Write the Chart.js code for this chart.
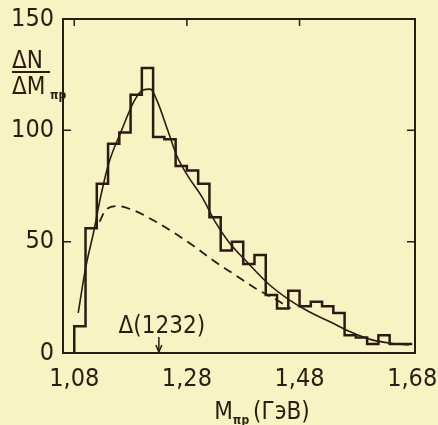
<!DOCTYPE html>
<html>
<head>
<meta charset="utf-8">
<script src="https://cdn.jsdelivr.net/npm/chart.js@4/dist/chart.umd.min.js"></script>
<style>
  html, body { margin: 0; padding: 0; background: #f8f3c2; }
  canvas { display: block; }
</style>
</head>
<body>
<canvas id="c" width="438" height="425"></canvas>
<script>
// гистограмма: границы бинов (ГэВ) и число событий в бине
const binEdges = [1.08, 1.10, 1.12, 1.14, 1.16, 1.18, 1.20, 1.22, 1.24, 1.26, 1.28,
  1.30, 1.32, 1.34, 1.36, 1.38, 1.40, 1.42, 1.44, 1.46, 1.48,
  1.50, 1.52, 1.54, 1.56, 1.58, 1.60, 1.62, 1.64, 1.66, 1.68]
const counts = [12, 56, 76, 94, 99, 116, 128, 97, 96, 84,
  82, 76, 61, 46, 50, 40, 44, 26, 20, 28,
  21, 23, 21, 18, 8, 7, 4, 8, 4, 4]

// сплошная кривая (полный фит)
const fitMass = [1.087, 1.10, 1.115, 1.125, 1.141, 1.164, 1.186, 1.201, 1.215, 1.2275,
  1.246, 1.263, 1.283, 1.307, 1.33, 1.354, 1.39, 1.425, 1.461, 1.497,
  1.534, 1.57, 1.607, 1.644, 1.674]
const fitValue = [18, 38, 55, 68, 85, 100, 113, 118, 118.5, 113,
  100, 88, 79, 70, 59, 50, 40, 31, 24, 18.5,
  14, 9.5, 6, 4.3, 3.6]

// пунктир (фон)
const bgMass = [1.125, 1.135, 1.156, 1.186, 1.221, 1.257, 1.295, 1.33, 1.366, 1.402, 1.438, 1.464]
const bgValue = [59, 64, 66, 64, 59.5, 54, 47.5, 41, 35, 29, 24, 20]

const massTicks = [1.08, 1.28, 1.48, 1.68]
const countTicks = [0, 50, 100, 150]
const deltaMass = 1.232

const INK = '#2a1c12'
const BG = '#f8f3c2'
const FONT = "'Liberation Sans Narrow', 'DejaVu Sans Condensed', sans-serif"

const histPoints = [{ x: binEdges[0], y: 0 }]
counts.forEach((v, i) => histPoints.push({ x: binEdges[i], y: v }))
histPoints.push({ x: binEdges[binEdges.length - 1], y: counts[counts.length - 1] })

const paper = {
  id: 'paper',
  beforeDraw(chart) {
    const ctx = chart.ctx
    ctx.save()
    ctx.fillStyle = BG
    ctx.fillRect(0, 0, chart.width, chart.height)
    ctx.restore()
  },
  afterDraw(chart) {
    const ctx = chart.ctx
    const a = chart.chartArea
    const xs = chart.scales.x
    const ys = chart.scales.y
    ctx.save()
    ctx.strokeStyle = INK
    ctx.fillStyle = INK
    ctx.lineWidth = 2
    ctx.strokeRect(a.left, a.top, a.right - a.left, a.bottom - a.top)

    // внутренние риски
    ctx.lineWidth = 1.5
    ;[50, 100].forEach(v => {
      const py = ys.getPixelForValue(v)
      ctx.beginPath()
      ctx.moveTo(a.left, py); ctx.lineTo(a.left + 8, py)
      ctx.moveTo(a.right, py); ctx.lineTo(a.right - 8, py)
      ctx.stroke()
    })
    ;[1.08, 1.28, 1.48].forEach(v => {
      const px = xs.getPixelForValue(v)
      ctx.beginPath()
      ctx.moveTo(px, a.top); ctx.lineTo(px, a.top + 7)
      ctx.stroke()
    })

    // Δ(1232) со стрелкой
    const dx = xs.getPixelForValue(deltaMass)
    ctx.font = '24px ' + FONT
    ctx.textAlign = 'center'
    ctx.textBaseline = 'alphabetic'
    ctx.fillText('\u0394(1232)', dx + 2, 333)
    ctx.beginPath()
    ctx.moveTo(dx - 1, 337); ctx.lineTo(dx - 1, a.bottom - 1)
    ctx.stroke()
    ctx.beginPath()
    ctx.moveTo(dx - 4, a.bottom - 8); ctx.lineTo(dx - 1, a.bottom - 1); ctx.lineTo(dx + 2, a.bottom - 8)
    ctx.stroke()

    // подпись оси Y: ΔN / ΔM
    ctx.textAlign = 'left'
    ctx.font = '24px ' + FONT
    ctx.fillText('\u0394N', 12, 68)
    ctx.fillRect(12, 71, 38, 2)
    ctx.fillText('\u0394M', 12, 94)
    ctx.font = 'bold 12px ' + FONT
    ctx.fillText('\u03c0p', 50, 99)

    // подпись оси X: M(πp) (ГэВ)
    ctx.font = '24px ' + FONT
    const wM = ctx.measureText('M').width
    const tail = '(\u0413\u044d\u0412)'
    const wT = ctx.measureText(tail).width
    ctx.font = 'bold 12px ' + FONT
    const wS = ctx.measureText('\u03c0p').width
    const total = wM + wS + 4 + wT
    let x0 = 262 - total / 2
    ctx.font = '24px ' + FONT
    ctx.fillText('M', x0, 419)
    ctx.font = 'bold 12px ' + FONT
    ctx.fillText('\u03c0p', x0 + wM, 424)
    ctx.font = '24px ' + FONT
    ctx.fillText(tail, x0 + wM + wS + 4, 419)
    ctx.restore()
  }
}

new Chart(document.getElementById('c'), {
  type: 'line',
  data: {
    datasets: [
      {
        label: 'hist',
        data: histPoints,
        stepped: 'before',
        borderColor: INK,
        borderWidth: 2.5,
        pointRadius: 0,
        fill: false
      },
      {
        label: 'fit',
        data: fitMass.map((m, i) => ({ x: m, y: fitValue[i] })),
        borderColor: INK,
        borderWidth: 1.6,
        pointRadius: 0,
        cubicInterpolationMode: 'monotone',
        fill: false
      },
      {
        label: 'background',
        data: bgMass.map((m, i) => ({ x: m, y: bgValue[i] })),
        borderColor: INK,
        borderWidth: 1.8,
        borderDash: [9, 6],
        pointRadius: 0,
        cubicInterpolationMode: 'monotone',
        fill: false
      }
    ]
  },
  options: {
    responsive: false,
    animation: false,
    layout: { padding: { top: 19, right: 23, left: 0, bottom: 0 } },
    plugins: {
      legend: { display: false },
      tooltip: { enabled: false }
    },
    scales: {
      x: {
        type: 'linear',
        min: 1.06,
        max: 1.685,
        afterBuildTicks: s => { s.ticks = massTicks.map(v => ({ value: v })) },
        afterFit: s => { s.height = 72; s.paddingLeft = 0; s.paddingRight = 0 },
        grid: { display: false, drawTicks: false },
        border: { display: false },
        ticks: {
          padding: 11,
          color: INK,
          font: { family: FONT, size: 25 },
          maxRotation: 0,
          callback: v => v.toFixed(2).replace('.', ',')
        }
      },
      y: {
        type: 'linear',
        min: 0,
        max: 150,
        afterBuildTicks: s => { s.ticks = countTicks.map(v => ({ value: v })) },
        afterFit: s => { s.width = 63; s.paddingTop = 0; s.paddingBottom = 0 },
        grid: { display: false, drawTicks: false },
        border: { display: false },
        ticks: {
          padding: 9,
          color: INK,
          font: { family: FONT, size: 25 }
        }
      }
    }
  },
  plugins: [paper]
})
</script>
</body>
</html>
